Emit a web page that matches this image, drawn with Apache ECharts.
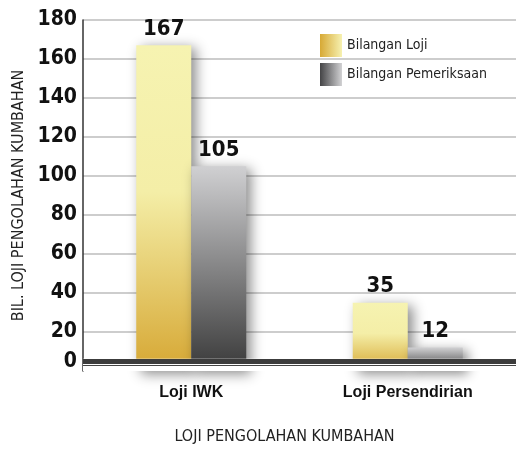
<!DOCTYPE html>
<html>
<head>
<meta charset="utf-8">
<script src="https://cdn.jsdelivr.net/npm/echarts@6/dist/echarts.min.js"></script>
<style>
  html, body {margin: 0; padding: 0; background: #ffffff;}
  #main {width: 518px; height: 451px;}
</style>
</head>
<body>
<div id="main"></div>
<script>
const categories = ['Loji IWK', 'Loji Persendirian'];
const bilanganLoji = [167, 35];
const bilanganPemeriksaan = [105, 12];
const seriesNames = ['Bilangan Loji', 'Bilangan Pemeriksaan'];
const yMin = 0, yMax = 180, yStep = 20;

const narrow = '"Liberation Sans Narrow", "DejaVu Sans Condensed", "Arial Narrow", sans-serif';

function vGrad(stops) {
  return new echarts.graphic.LinearGradient(0, 0, 0, 1, stops);
}
function hGrad(stops) {
  return new echarts.graphic.LinearGradient(0, 0, 1, 0, stops);
}

const yellowBar = vGrad([
  {offset: 0, color: '#f6f3b1'},
  {offset: 0.45, color: '#f4eea7'},
  {offset: 1, color: '#d6a733'}
]);
const greyBar = vGrad([
  {offset: 0, color: '#d0d0d2'},
  {offset: 1, color: '#393939'}
]);

// first split line (at 0) hidden, the baseline band replaces it
let gridColors = ['rgba(0,0,0,0)'];
for (let i = 0; i < 9; i++) gridColors.push('#bdbdbd');

let myChart = echarts.init(document.getElementById('main'));
let option = {
  animation: false,
  grid: {left: 83, right: 2, top: 20, bottom: 80},
  legend: {
    orient: 'vertical',
    left: 315,
    top: 29,
    itemWidth: 22,
    itemHeight: 23,
    itemGap: 6,
    textStyle: {fontFamily: narrow, fontSize: 14, color: '#222'},
    data: [
      {name: seriesNames[0], icon: 'rect', itemStyle: {color: hGrad([{offset: 0, color: '#d7a935'}, {offset: 1, color: '#f6f1b1'}])}},
      {name: seriesNames[1], icon: 'rect', itemStyle: {color: hGrad([{offset: 0, color: '#444446'}, {offset: 1, color: '#d2d2d4'}])}}
    ]
  },
  xAxis: {
    type: 'category',
    data: categories,
    name: 'LOJI PENGOLAHAN KUMBAHAN',
    nameLocation: 'middle',
    nameGap: 58,
    nameTextStyle: {fontFamily: narrow, fontSize: 16, color: '#222', padding: [0, 30, 0, 0]},
    axisLine: {show: false},
    axisTick: {show: false},
    axisLabel: {margin: 14, fontFamily: 'Liberation Sans, Arial, sans-serif', fontWeight: 'bold', fontSize: 16, color: '#111'}
  },
  yAxis: {
    type: 'value',
    min: yMin,
    max: yMax,
    interval: yStep,
    name: 'BIL. LOJI PENGOLAHAN KUMBAHAN',
    nameLocation: 'middle',
    nameGap: 56,
    nameTextStyle: {fontFamily: narrow, fontSize: 16, color: '#222'},
    axisLine: {show: true, lineStyle: {color: '#333', width: 1.5}},
    axisTick: {show: false},
    splitLine: {lineStyle: {color: gridColors, width: 1.5}},
    axisLabel: {
      margin: 6,
      fontFamily: narrow,
      fontWeight: 'bold',
      fontSize: 21,
      color: '#111',
      formatter: function (v) {
        return v === 0 ? '{z|0}' : String(v);
      },
      rich: {z: {fontFamily: narrow, fontWeight: 'bold', fontSize: 21, color: '#111', padding: [0, 0, 18, 0]}}
    }
  },
  series: [
    {
      name: seriesNames[0],
      type: 'bar',
      barWidth: 55,
      barGap: '0%',
      data: bilanganLoji,
      itemStyle: {color: yellowBar, shadowBlur: 12, shadowColor: 'rgba(0,0,0,0.45)', shadowOffsetX: 5, shadowOffsetY: 3},
      label: {show: true, position: 'top', distance: 5, fontFamily: narrow, fontWeight: 'bold', fontSize: 22, color: '#111'}
    },
    {
      name: seriesNames[1],
      type: 'bar',
      barWidth: 55,
      data: bilanganPemeriksaan,
      itemStyle: {color: greyBar, shadowBlur: 12, shadowColor: 'rgba(0,0,0,0.45)', shadowOffsetX: 5, shadowOffsetY: 3},
      label: {show: true, position: 'top', distance: 5, fontFamily: narrow, fontWeight: 'bold', fontSize: 22, color: '#111'}
    },
    {
      // baseline band drawn over the bottom of the bars
      name: 'baseline',
      type: 'line',
      data: [],
      z: 10,
      silent: true,
      markArea: {
        silent: true,
        z: 4,
        itemStyle: {color: '#ffffff'},
        data: [[{yAxis: 0}, {yAxis: 6.3}]]
      },
      markLine: {
        silent: true,
        z: 5,
        symbol: ['none', 'none'],
        label: {show: false},
        data: [
          {yAxis: 4.75, lineStyle: {color: '#3c3c3c', width: 5, type: 'solid'}},
          {yAxis: 2.9, lineStyle: {color: '#444', width: 1.2, type: 'solid'}}
        ]
      }
    }
  ]
};
myChart.setOption(option);
</script>
</body>
</html>
